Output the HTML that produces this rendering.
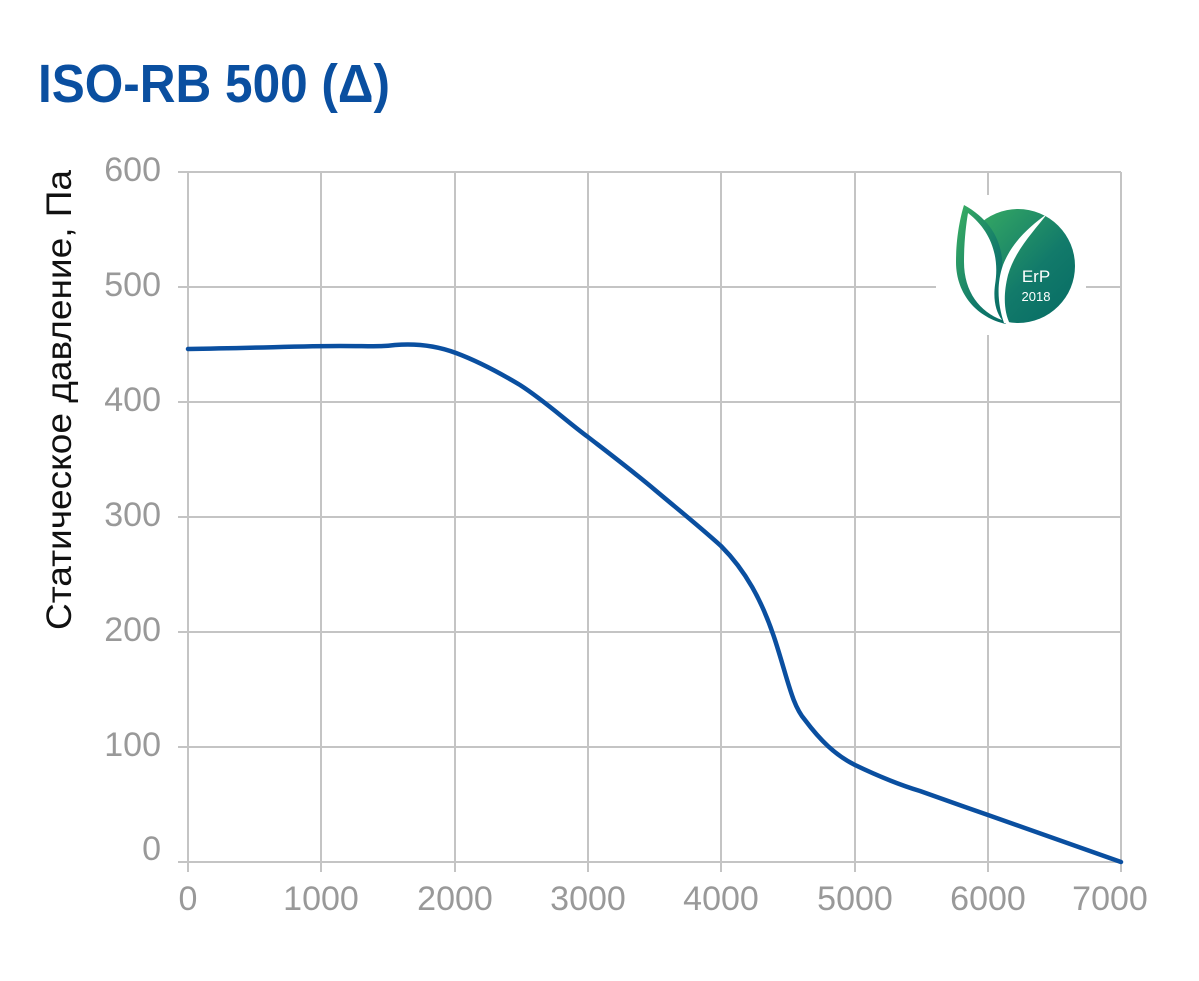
<!DOCTYPE html>
<html><head><meta charset="utf-8"><style>
html,body{margin:0;padding:0;background:#fff;width:1199px;height:981px;overflow:hidden}
svg{display:block}
</style></head><body>
<svg width="1199" height="981" viewBox="0 0 1199 981" xmlns="http://www.w3.org/2000/svg">
<defs>
<linearGradient id="g" x1="0" y1="0" x2="1" y2="1">
<stop offset="0" stop-color="#3bb062"/><stop offset="0.6" stop-color="#127a6a"/><stop offset="1" stop-color="#066b64"/>
</linearGradient>
</defs>
<text x="38" y="102" font-family="Liberation Sans Narrow, Liberation Sans, sans-serif" font-weight="bold" font-size="54" fill="#0a4fa0" textLength="352" lengthAdjust="spacingAndGlyphs">ISO-RB 500 (Δ)</text>
<g stroke="#c4c4c4" stroke-width="2">
<line x1="178" y1="172" x2="1121" y2="172"/>
<line x1="178" y1="287" x2="1121" y2="287"/>
<line x1="178" y1="402" x2="1121" y2="402"/>
<line x1="178" y1="517" x2="1121" y2="517"/>
<line x1="178" y1="632" x2="1121" y2="632"/>
<line x1="178" y1="747" x2="1121" y2="747"/>
<line x1="178" y1="862" x2="1121" y2="862"/>
<line x1="188" y1="172" x2="188" y2="872"/>
<line x1="321" y1="172" x2="321" y2="872"/>
<line x1="455" y1="172" x2="455" y2="872"/>
<line x1="588" y1="172" x2="588" y2="872"/>
<line x1="721" y1="172" x2="721" y2="872"/>
<line x1="855" y1="172" x2="855" y2="872"/>
<line x1="988" y1="172" x2="988" y2="872"/>
<line x1="1121" y1="172" x2="1121" y2="872"/>
</g>
<rect x="936" y="195" width="150" height="140" fill="#fff"/>
<g font-family="Liberation Sans, sans-serif" font-size="34" fill="#999">
<g text-anchor="end">
<text x="161" y="181">600</text><text x="161" y="296">500</text><text x="161" y="411">400</text>
<text x="161" y="526">300</text><text x="161" y="641">200</text><text x="161" y="756">100</text><text x="161" y="860">0</text>
</g>
<g text-anchor="middle">
<text x="188" y="910">0</text><text x="321" y="910">1000</text><text x="455" y="910">2000</text><text x="588" y="910">3000</text>
<text x="721" y="910">4000</text><text x="855" y="910">5000</text><text x="988" y="910">6000</text><text x="1110" y="910">7000</text>
</g>
</g>
<text transform="translate(71,400) rotate(-90)" text-anchor="middle" font-family="Liberation Sans, sans-serif" font-size="35" fill="#111" textLength="460" lengthAdjust="spacingAndGlyphs">Статическое давление, Па</text>
<path d="M188,349 C260,348 300,346 340,346 C370,346 380,347 395,345 C420,343 440,347 456,353 C480,362 500,373 520,385 C545,401 565,420 588,437 C610,454 635,473 655,490 C680,511 700,527 721,546 C745,570 762,600 775,640 C788,680 792,705 805,720 C820,740 835,755 855,765 C880,777 900,785 920,791 C945,800 965,807 988,815 L1121,862" fill="none" stroke="#0a4fa0" stroke-width="4.5" stroke-linejoin="round" stroke-linecap="round"/>
<g>
<circle cx="1018" cy="266" r="57" fill="url(#g)"/>
<path d="M964,205 C995,222 1008,250 1000,285 C997,300 1000,315 1006,324 C978,318 956,295 956,262 C956,238 960,218 964,205 Z" fill="url(#g)"/>
<path d="M968,213 C990,230 1000,255 995,285 C993,300 996,312 1002,320 C980,312 964,292 964,262 C964,242 966,225 968,213 Z" fill="#fff"/>
<path d="M1047,214 C1035,230 1015,250 1008,275 C1003,295 1004,312 1010,324 L1004,323 C998,305 996,285 1003,265 C1012,242 1030,226 1047,214 Z" fill="#fff"/>
<text x="1036" y="282" text-anchor="middle" font-family="Liberation Sans, sans-serif" font-size="17" fill="#fff">ErP</text>
<text x="1036" y="301" text-anchor="middle" font-family="Liberation Sans, sans-serif" font-size="13" fill="#fff">2018</text>
</g>
</svg>
</body></html>
